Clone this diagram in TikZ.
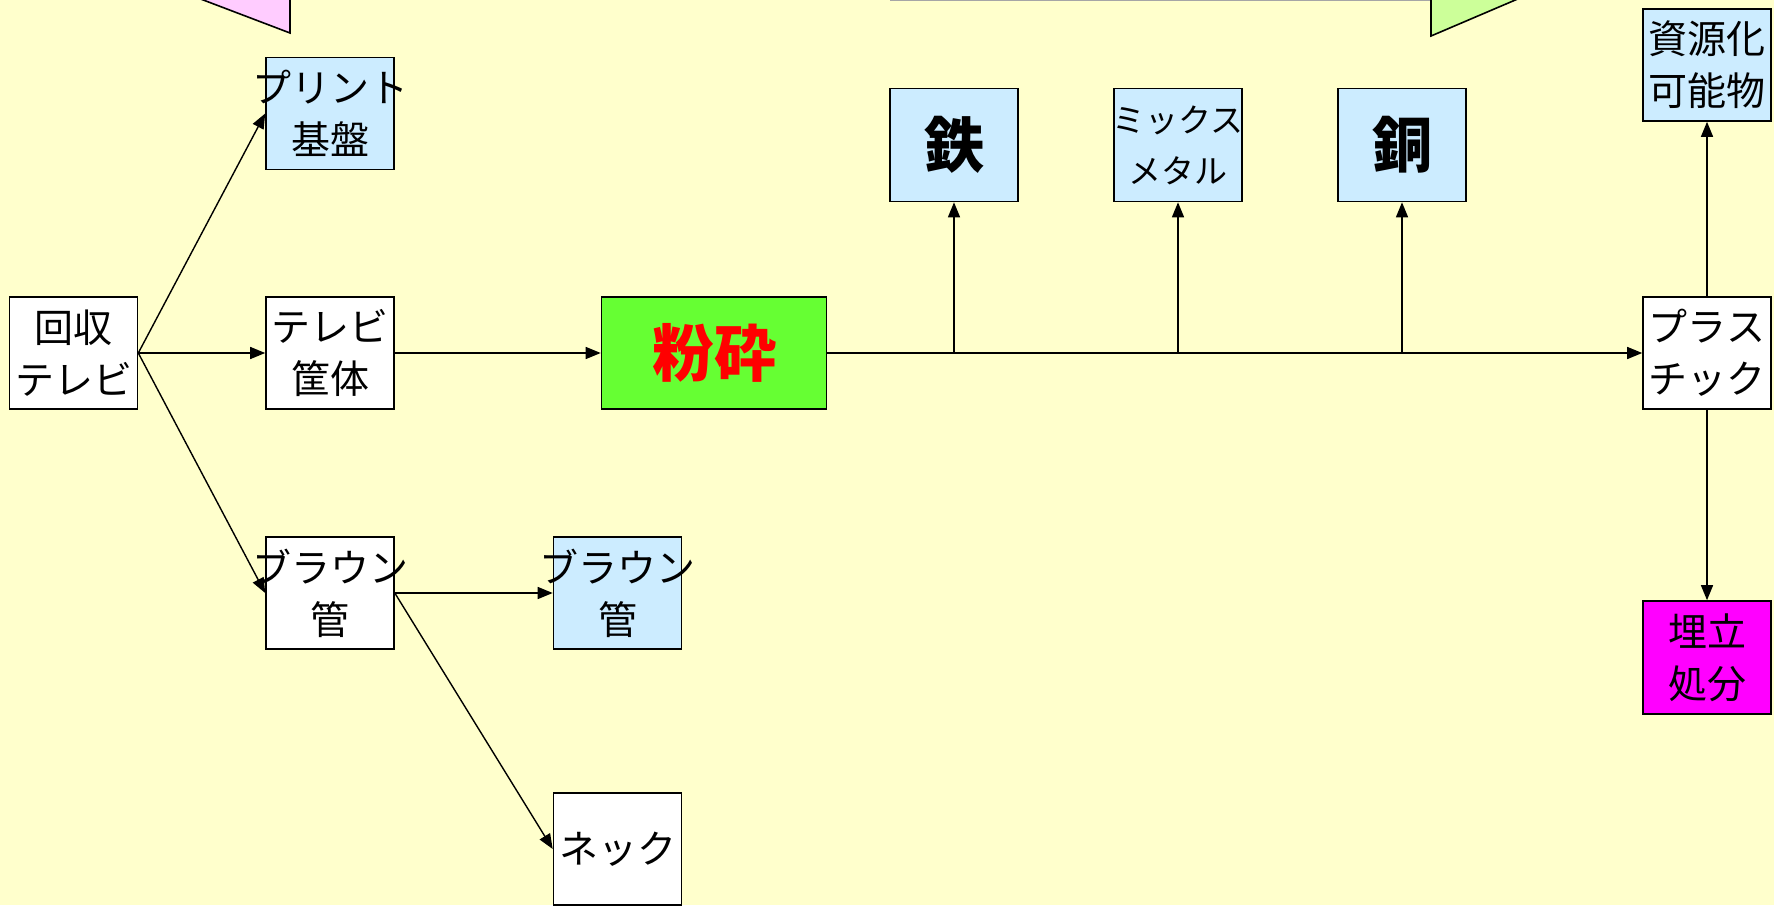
\documentclass[tikz,border=0pt]{standalone}
\usepackage{fontspec}
\setmainfont{Noto Sans CJK JP}
\usetikzlibrary{arrows.meta}
\definecolor{bg}{HTML}{FFFFCC}
\definecolor{lblue}{HTML}{CCECFF}
\definecolor{fgreen}{HTML}{66FF33}
\definecolor{mag}{HTML}{FF00FF}
\definecolor{pinkf}{HTML}{FFCCFF}
\definecolor{lgreen}{HTML}{CCFF99}
\newcommand{\ovl}[1]{\makebox[0pt]{#1}}
\tikzset{
  box/.style={draw, line width=1.6pt, inner sep=0pt, align=center,
    minimum width=128pt, minimum height=112pt,
    font=\fontsize{39}{52}\selectfont},
  wbox/.style={box, fill=white},
  bbox/.style={box, fill=lblue},
  conn/.style={line width=1.4pt, -{Triangle[length=15pt,width=12pt]}},
}
\begin{document}
\begin{tikzpicture}[x=1pt,y=-1pt]
\useasboundingbox (0,0) rectangle (1774,905);
\fill[bg] (0,0) rectangle (1774,905);
% partial shapes at the top
\filldraw[fill=pinkf, line width=1.6pt] (198,-2) -- (290,33) -- (290,-2);
\draw[gray!70, line width=1.4pt] (890,0.7) -- (1431,0.7);
\filldraw[fill=lgreen, line width=1.6pt] (1431,-2) -- (1431,36) -- (1520,-2);
% nodes
\node[wbox] (kaishu) at (73.5,353) {回収\\テレビ};
\node[bbox] (print) at (330,113.5) {\ovl{プリント}\\基盤};
\node[wbox] (kyotai) at (330,353) {テレビ\\筐体};
\node[wbox] (braun1) at (330,593) {\ovl{ブラウン}\\管};
\node[bbox] (braun2) at (617.5,593) {\ovl{ブラウン}\\管};
\node[wbox, minimum height=112pt] (neck) at (617.5,849) {ネック};
\node[box, fill=fgreen, minimum width=225pt, text=red, font=\fontsize{62}{70}\selectfont\bfseries] (funsai) at (714,353) {粉砕};
\node[bbox, minimum height=113pt, font=\fontsize{60}{64}\selectfont\bfseries] (tetsu) at (954,145) {鉄};
\node[bbox, minimum height=113pt, font=\fontsize{33}{51}\selectfont] (mix) at (1178,145) {\ovl{ミックス}\\メタル};
\node[bbox, minimum height=113pt, font=\fontsize{60}{64}\selectfont\bfseries] (dou) at (1402,145) {銅};
\node[bbox] (shigen) at (1707,65) {\ovl{資源化}\\\ovl{可能物}};
\node[wbox] (plastic) at (1707,353) {プラス\\チック};
\node[box, fill=mag, minimum height=113pt] (ume) at (1707,657.5) {埋立\\処分};
% junctions on the main line
\coordinate (j1) at (tetsu.south |- funsai.east);
\coordinate (j2) at (mix.south |- funsai.east);
\coordinate (j3) at (dou.south |- funsai.east);
% connectors
\draw[conn] (kaishu.east) -- (print.west);
\draw[conn] (kaishu.east) -- (kyotai.west);
\draw[conn] (kaishu.east) -- (braun1.west);
\draw[conn] (kyotai.east) -- (funsai.west);
\draw[conn] (braun1.east) -- (braun2.west);
\draw[conn] (braun1.east) -- (neck.west);
\draw[line width=2.8pt] (funsai.east) -- (j3);
\draw[conn] (j3) -- (plastic.west);
\draw[conn] (j1) -- (tetsu.south);
\draw[conn] (j2) -- (mix.south);
\draw[conn] (j3) -- (dou.south);
\draw[conn] (plastic.north) -- (shigen.south);
\draw[conn] (plastic.south) -- (ume.north);
\end{tikzpicture}
\end{document}
